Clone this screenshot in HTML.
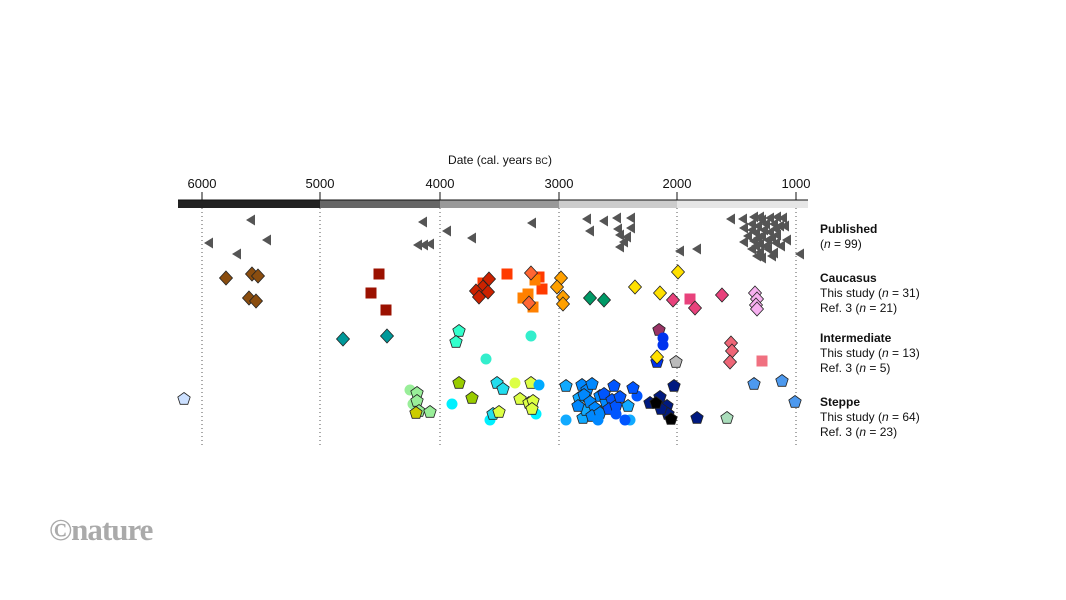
<!DOCTYPE html>
<html><head><meta charset="utf-8"><style>
html,body{margin:0;padding:0;background:#fff}
svg{display:block;font-family:"Liberation Sans",Arial,sans-serif}
</style></head><body>
<svg width="1066" height="600" viewBox="0 0 1066 600" xmlns="http://www.w3.org/2000/svg">
<defs>
<polygon id="t" points="-5,0 4,-5.5 4,5.5" fill="#555"/>
<polygon id="d" points="0,-7 6.5,0 0,7 -6.5,0" stroke="#222" stroke-width="0.8"/>
<rect id="s" x="-5.5" y="-5.5" width="11" height="11"/>
<polygon id="p" points="0,-6.5 6.2,-2 3.8,5.3 -3.8,5.3 -6.2,-2" stroke="#222" stroke-width="0.8"/>
<circle id="c" r="5.5"/>
</defs>
<text x="500" y="164" font-size="12" text-anchor="middle" fill="#111">Date (cal. years <tspan font-size="9">BC</tspan>)</text>
<g font-size="13" fill="#111" text-anchor="middle">
<text x="202" y="188">6000</text><text x="320" y="188">5000</text><text x="440" y="188">4000</text><text x="559" y="188">3000</text><text x="677" y="188">2000</text><text x="796" y="188">1000</text>
</g>
<g stroke="#111" stroke-width="1">
<line x1="202" y1="192" x2="202" y2="200"/><line x1="320" y1="192" x2="320" y2="200"/><line x1="440" y1="192" x2="440" y2="200"/><line x1="559" y1="192" x2="559" y2="200"/><line x1="677" y1="192" x2="677" y2="200"/><line x1="796" y1="192" x2="796" y2="200"/>
</g>
<rect x="178" y="200" width="142" height="8" fill="#222"/>
<rect x="320" y="200" width="120" height="8" fill="#666"/>
<rect x="440" y="200" width="119" height="8" fill="#999"/>
<rect x="559" y="200" width="118" height="8" fill="#ccc"/>
<rect x="677" y="200" width="131" height="8" fill="#e6e6e6"/>
<line x1="178" y1="200" x2="808" y2="200" stroke="#111"/>
<g stroke="#555" stroke-width="1" stroke-dasharray="1,3">
<line x1="202" y1="208" x2="202" y2="446"/><line x1="320" y1="208" x2="320" y2="446"/><line x1="440" y1="208" x2="440" y2="446"/><line x1="559" y1="208" x2="559" y2="446"/><line x1="677" y1="208" x2="677" y2="446"/><line x1="796" y1="208" x2="796" y2="446"/>
</g>
<!-- published -->
<g>
<use href="#t" x="251" y="220"/><use href="#t" x="423" y="222"/><use href="#t" x="532" y="223"/><use href="#t" x="587" y="219"/><use href="#t" x="604" y="221"/><use href="#t" x="617" y="218"/><use href="#t" x="631" y="218"/>
<use href="#t" x="590" y="231"/><use href="#t" x="618" y="229"/><use href="#t" x="631" y="228"/><use href="#t" x="620" y="235"/><use href="#t" x="627" y="237"/><use href="#t" x="624" y="242"/><use href="#t" x="620" y="247"/>
<use href="#t" x="472" y="238"/><use href="#t" x="447" y="231"/><use href="#t" x="267" y="240"/><use href="#t" x="209" y="243"/><use href="#t" x="237" y="254"/>
<use href="#t" x="418" y="245"/><use href="#t" x="424" y="245"/><use href="#t" x="430" y="244"/>
<use href="#t" x="680" y="251"/><use href="#t" x="697" y="249"/><use href="#t" x="800" y="254"/><use href="#t" x="787" y="240"/><use href="#t" x="785" y="226"/>
<use href="#t" x="731" y="219"/><use href="#t" x="743" y="219"/><use href="#t" x="754" y="217"/><use href="#t" x="760" y="217"/><use href="#t" x="770" y="218"/><use href="#t" x="777" y="217"/><use href="#t" x="783" y="218"/>
<use href="#t" x="744" y="228"/><use href="#t" x="752" y="224"/><use href="#t" x="758" y="226"/><use href="#t" x="766" y="224"/><use href="#t" x="774" y="224"/><use href="#t" x="780" y="226"/>
<use href="#t" x="748" y="236"/><use href="#t" x="756" y="233"/><use href="#t" x="762" y="236"/><use href="#t" x="770" y="232"/><use href="#t" x="777" y="235"/>
<use href="#t" x="744" y="242"/><use href="#t" x="754" y="241"/><use href="#t" x="760" y="244"/><use href="#t" x="768" y="240"/><use href="#t" x="776" y="243"/><use href="#t" x="781" y="246"/>
<use href="#t" x="752" y="249"/><use href="#t" x="760" y="252"/><use href="#t" x="768" y="249"/><use href="#t" x="774" y="253"/><use href="#t" x="757" y="256"/><use href="#t" x="772" y="256"/><use href="#t" x="764" y="230"/><use href="#t" x="756" y="246"/>
<use href="#t" x="762" y="220"/><use href="#t" x="758" y="238"/><use href="#t" x="772" y="238"/><use href="#t" x="766" y="246"/><use href="#t" x="762" y="258"/><use href="#t" x="776" y="229"/><use href="#t" x="752" y="230"/>
</g>
<!-- caucasus -->
<g fill="#8a4d0f"><use href="#d" x="226" y="278"/><use href="#d" x="252" y="274"/><use href="#d" x="258" y="276"/><use href="#d" x="249" y="298"/><use href="#d" x="256" y="301"/></g>
<g fill="#9b1100"><use href="#s" x="379" y="274"/><use href="#s" x="371" y="293"/><use href="#s" x="386" y="310"/></g>
<g fill="#ff3a00"><use href="#s" x="507" y="274"/><use href="#s" x="539" y="277"/><use href="#s" x="542" y="289"/><use href="#s" x="483" y="283"/></g>
<g fill="#cc2200"><use href="#d" x="489" y="279"/><use href="#d" x="483" y="287"/><use href="#d" x="476" y="291"/><use href="#d" x="488" y="292"/><use href="#d" x="479" y="297"/></g>
<g fill="#ff8000"><use href="#s" x="528" y="294"/><use href="#s" x="523" y="298"/><use href="#s" x="533" y="307"/><use href="#s" x="535" y="280"/></g>
<g fill="#ff6633"><use href="#d" x="531" y="273"/><use href="#d" x="529" y="303"/></g>
<g fill="#ffa000"><use href="#d" x="561" y="278"/><use href="#d" x="557" y="287"/><use href="#d" x="563" y="297"/><use href="#d" x="563" y="304"/></g>
<g fill="#009966"><use href="#d" x="590" y="298"/><use href="#d" x="604" y="300"/></g>
<g fill="#ffe000"><use href="#d" x="635" y="287"/><use href="#d" x="660" y="293"/><use href="#d" x="678" y="272"/></g>
<use href="#s" x="690" y="299" fill="#e8427c"/>
<g fill="#e8427c"><use href="#d" x="673" y="300"/><use href="#d" x="695" y="308"/><use href="#d" x="722" y="295"/></g>
<g fill="#f7b0f0"><use href="#d" x="755" y="293"/><use href="#d" x="757" y="299"/><use href="#d" x="756" y="305"/><use href="#d" x="757" y="309"/></g>
<!-- intermediate -->
<g fill="#00999a"><use href="#d" x="343" y="339"/><use href="#d" x="387" y="336"/></g>
<g fill="#33ffcc"><use href="#p" x="459" y="331"/><use href="#p" x="456" y="342"/></g>
<g fill="#33eecc"><use href="#c" x="531" y="336"/><use href="#c" x="486" y="359"/></g>
<use href="#p" x="659" y="330" fill="#993366"/>
<g fill="#0033ee"><use href="#c" x="663" y="338"/><use href="#c" x="663" y="345"/><use href="#p" x="657" y="362"/></g>
<use href="#d" x="657" y="357" fill="#ffe000"/>
<use href="#p" x="676" y="362" fill="#bbbbbb"/>
<g fill="#ee6677"><use href="#d" x="731" y="343"/><use href="#d" x="732" y="351"/><use href="#d" x="730" y="362"/><use href="#s" x="762" y="361" fill="#f07080" stroke="none"/></g>
<!-- steppe -->
<use href="#p" x="184" y="399" fill="#cce0ff"/>
<g fill="#99ee99"><use href="#c" x="410" y="390"/><use href="#c" x="413" y="404"/><use href="#p" x="417" y="393"/><use href="#p" x="417" y="401"/><use href="#p" x="419" y="411"/><use href="#p" x="430" y="412"/></g>
<use href="#p" x="416" y="413" fill="#cccc00"/>
<g fill="#99cc00"><use href="#p" x="459" y="383"/><use href="#p" x="472" y="398"/></g>
<g fill="#00f0ff"><use href="#c" x="452" y="404"/><use href="#c" x="490" y="420"/><use href="#c" x="536" y="414"/></g>
<g fill="#22ddee"><use href="#p" x="497" y="383"/><use href="#p" x="503" y="389"/><use href="#p" x="493" y="414"/></g>
<g fill="#ddff44"><use href="#c" x="515" y="383"/><use href="#p" x="531" y="383"/><use href="#p" x="520" y="399"/><use href="#p" x="529" y="403"/><use href="#p" x="533" y="401"/><use href="#p" x="499" y="412"/><use href="#p" x="532" y="409"/></g>
<use href="#c" x="539" y="385" fill="#00aaff"/>
<g fill="#11aaff"><use href="#p" x="566" y="386"/><use href="#c" x="566" y="420"/><use href="#p" x="583" y="418"/><use href="#p" x="579" y="398"/><use href="#p" x="586" y="410"/><use href="#p" x="628" y="406"/><use href="#c" x="630" y="420"/></g>
<g fill="#0088ff"><use href="#p" x="582" y="385"/><use href="#p" x="587" y="390"/><use href="#p" x="592" y="384"/><use href="#p" x="584" y="395"/><use href="#p" x="590" y="402"/><use href="#p" x="595" y="408"/><use href="#p" x="600" y="396"/><use href="#p" x="606" y="402"/><use href="#p" x="592" y="416"/><use href="#p" x="600" y="413"/><use href="#c" x="598" y="420"/><use href="#p" x="578" y="406"/></g>
<g fill="#0055ff"><use href="#p" x="604" y="394"/><use href="#p" x="612" y="400"/><use href="#p" x="609" y="409"/><use href="#p" x="616" y="406"/><use href="#p" x="620" y="397"/><use href="#p" x="614" y="386"/><use href="#c" x="637" y="396"/><use href="#c" x="625" y="420"/><use href="#p" x="633" y="388"/><use href="#c" x="616" y="414"/></g>
<g fill="#001a80"><use href="#p" x="674" y="386"/><use href="#p" x="697" y="418"/><use href="#p" x="650" y="403"/><use href="#p" x="660" y="397"/><use href="#p" x="667" y="406"/><use href="#p" x="668" y="414"/><use href="#p" x="661" y="409"/></g>
<g fill="#000"><use href="#p" x="656" y="403"/><use href="#p" x="671" y="419"/></g>
<g fill="#4d99ee"><use href="#p" x="754" y="384"/><use href="#p" x="782" y="381"/><use href="#p" x="795" y="402"/></g>
<use href="#p" x="727" y="418" fill="#aaddbb"/>
<!-- labels -->
<g font-size="12" fill="#111">
<text x="820" y="233" font-weight="bold">Published</text>
<text x="820" y="248">(<tspan font-style="italic">n</tspan> = 99)</text>
<text x="820" y="282" font-weight="bold">Caucasus</text>
<text x="820" y="297">This study (<tspan font-style="italic">n</tspan> = 31)</text>
<text x="820" y="312">Ref. 3 (<tspan font-style="italic">n</tspan> = 21)</text>
<text x="820" y="342" font-weight="bold">Intermediate</text>
<text x="820" y="357">This study (<tspan font-style="italic">n</tspan> = 13)</text>
<text x="820" y="372">Ref. 3 (<tspan font-style="italic">n</tspan> = 5)</text>
<text x="820" y="406" font-weight="bold">Steppe</text>
<text x="820" y="421">This study (<tspan font-style="italic">n</tspan> = 64)</text>
<text x="820" y="436">Ref. 3 (<tspan font-style="italic">n</tspan> = 23)</text>
</g>
<text x="49" y="540" font-size="31" font-weight="bold" fill="#aaa" letter-spacing="-1" font-family="Liberation Serif,serif">©nature</text>
</svg>
</body></html>
